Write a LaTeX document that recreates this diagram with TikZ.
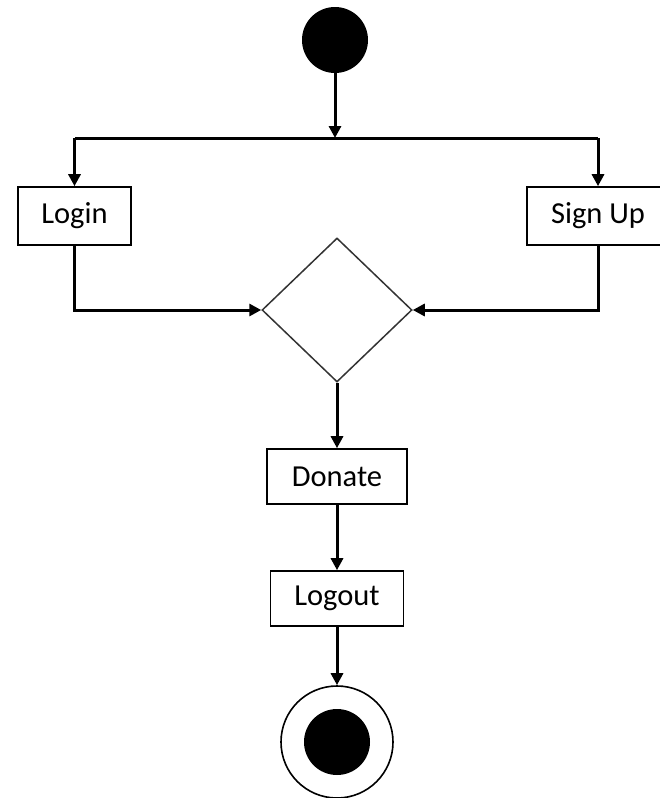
\documentclass[tikz,border=0pt]{standalone}
\usepackage{fontspec}
\setmainfont{Carlito}
\usetikzlibrary{arrows.meta,shapes.geometric}
\begin{document}
\begin{tikzpicture}[x=1pt,y=-1pt,
  flow/.style={line width=3pt,-{Triangle[length=12pt,width=12pt]}},
  action/.style={draw=black,line width=1.6pt,fill=white,inner sep=0pt,
    font=\fontsize{30.5}{36}\selectfont},
  initial/.style={circle,fill=black,inner sep=0pt,minimum size=66pt},
  merge/.style={diamond,draw=black!80,line width=1.5pt,inner sep=0pt,
    minimum width=150pt,minimum height=144pt}]
  \useasboundingbox (0,0) rectangle (660,798);

  % initial node and fork bar
  \node[initial] (start) at (335,40) {};
  \coordinate (fork) at (335,138);

  % activities
  \node[action,minimum width=113pt,minimum height=58pt] (login) at (74.5,216) {Login};
  \node[action,minimum width=142pt,minimum height=58pt] (signup) at (598,216) {Sign Up};
  \node[merge] (join) at (337,310) {};
  \node[action,minimum width=140pt,minimum height=55pt] (donate) at (337,476.5) {Donate};
  \node[action,minimum width=133pt,minimum height=55pt] (logout) at (337,598.5) {Logout};

  % final node
  \node[circle,draw=black,line width=1.6pt,inner sep=0pt,minimum size=112pt] (final) at (337,742) {};
  \node[circle,fill=black,inner sep=0pt,minimum size=66pt] (finaldot) at (final.center) {};

  % control flow
  \draw[flow] (start) -- (fork);
  \draw[line width=3pt] (fork) -- (login.north |- fork) (fork) -- (signup.north |- fork);
  \draw[flow] (login.north |- fork) -- (login.north);
  \draw[flow] (signup.north |- fork) -- (signup.north);
  \draw[flow] (login.south) |- (join.west);
  \draw[flow] (signup.south) |- (join.east);
  \draw[flow] (join.south) -- (donate.north);
  \draw[flow] (donate.south) -- (logout.north);
  \draw[flow] (logout.south) -- (final.north);
\end{tikzpicture}
\end{document}
